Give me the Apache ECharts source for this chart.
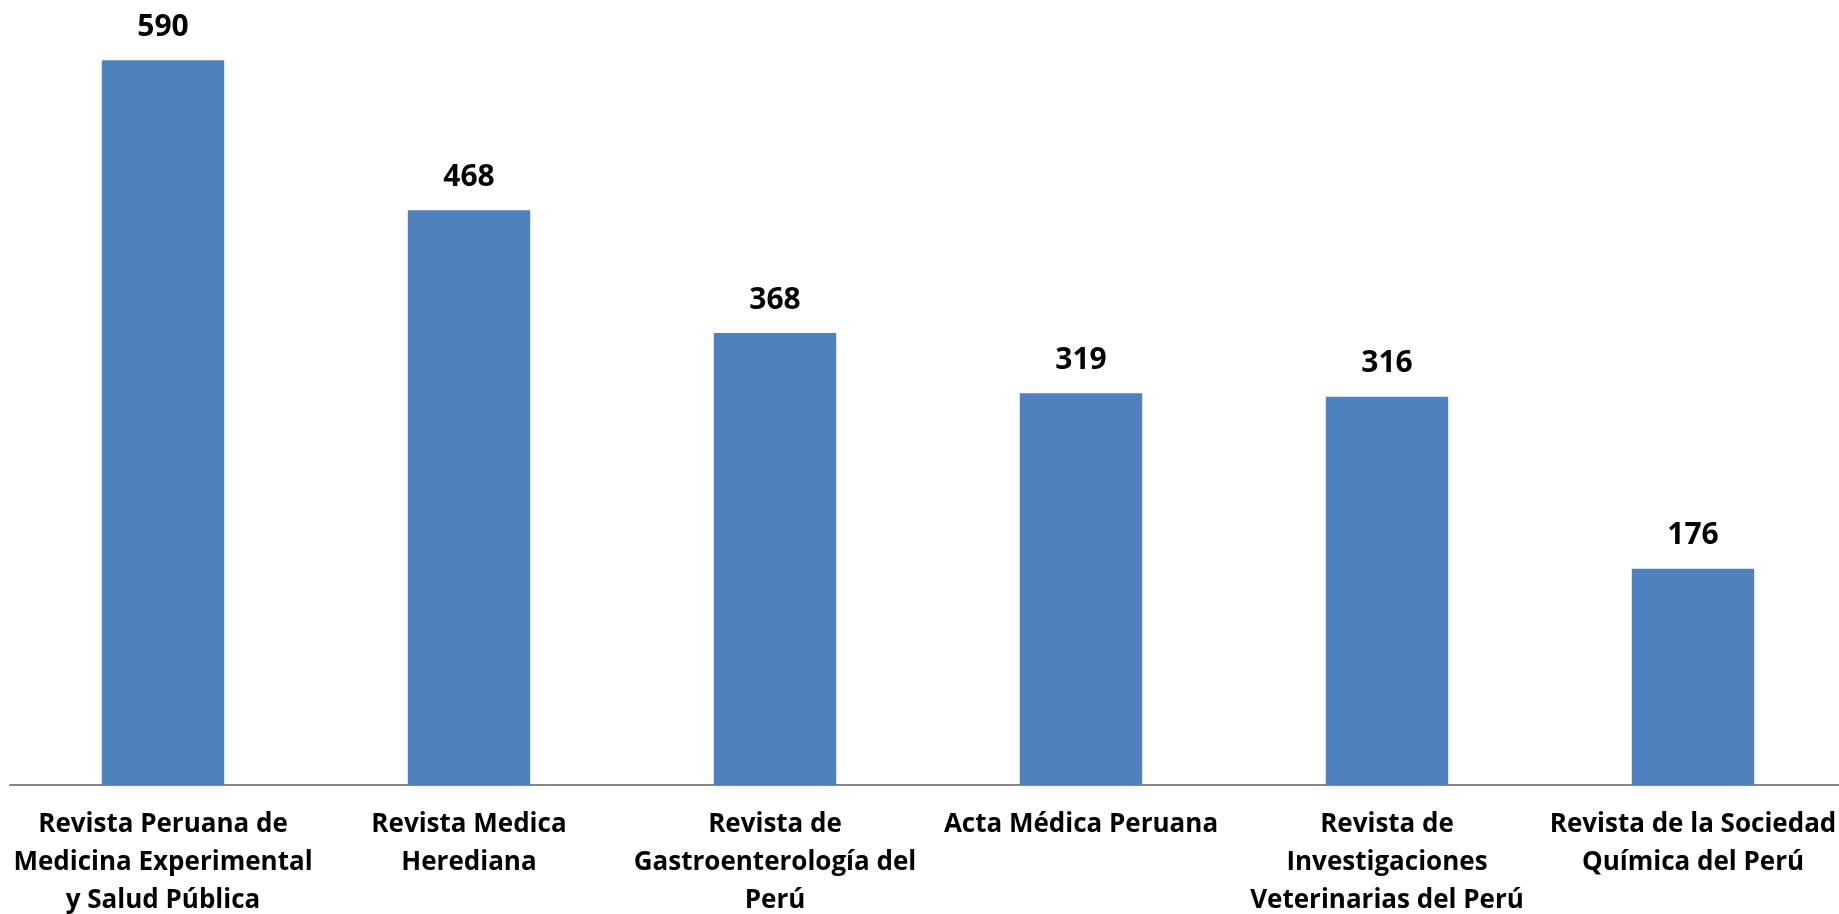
<!DOCTYPE html>
<html>
<head>
<meta charset="utf-8">
<script src="https://cdn.jsdelivr.net/npm/echarts@6/dist/echarts.min.js"></script>
<style>
  html, body { margin: 0; padding: 0; background: #fff; }
  #main { width: 1839px; height: 914px; }
</style>
</head>
<body>
<div id="main"></div>
<script>
// datos del gráfico
var revistas = [
  'Revista Peruana de\nMedicina Experimental\ny Salud Pública',
  'Revista Medica\nHerediana',
  'Revista de\nGastroenterología del\nPerú',
  'Acta Médica Peruana',
  'Revista de\nInvestigaciones\nVeterinarias del Perú',
  'Revista de la Sociedad\nQuímica del Perú'
];
var articulos = [590, 468, 368, 319, 316, 176];

var chart = echarts.init(document.getElementById('main'));
var option = {
  animation: false,
  grid: {
    left: 10,
    top: 48,
    width: 1836,
    bottom: 129,
    containLabel: false,
    outerBoundsMode: 'none'
  },
  xAxis: {
    type: 'category',
    data: revistas,
    axisLine: { lineStyle: { color: '#868686', width: 2 } },
    axisTick: { show: false },
    axisLabel: {
      interval: 0,
      margin: 21,
      color: '#000',
      fontFamily: 'Open Sans',
      fontWeight: 'bold',
      fontSize: 26,
      lineHeight: 38
    }
  },
  yAxis: {
    type: 'value',
    min: 0,
    max: 600,
    show: false,
    splitLine: { show: false }
  },
  series: [
    {
      type: 'bar',
      data: articulos,
      barWidth: '40%',
      itemStyle: { color: '#4F81BD' },
      label: {
        show: true,
        position: 'top',
        distance: 18,
        color: '#000',
        fontFamily: 'Open Sans',
        fontWeight: 'bold',
        fontSize: 30
      }
    }
  ]
};
chart.setOption(option);
</script>
</body>
</html>
